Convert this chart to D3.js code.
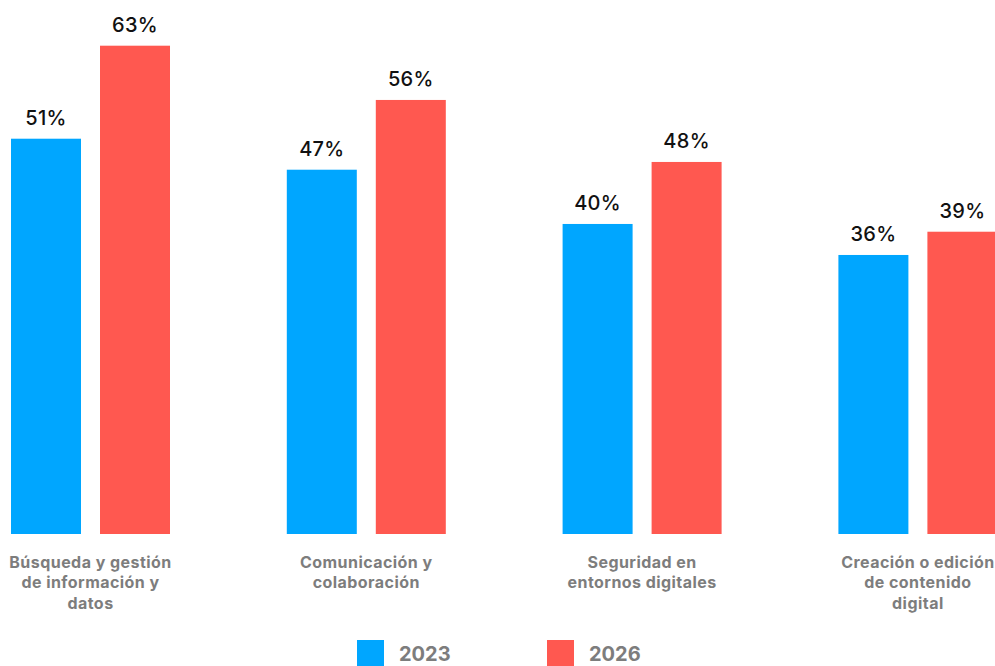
<!DOCTYPE html>
<html>
<head>
<meta charset="utf-8">
<script src="https://cdn.jsdelivr.net/npm/d3@7"></script>
<style>
  html, body { margin: 0; padding: 0; background: #fff; overflow: hidden; }
  svg { display: block; }
</style>
</head>
<body>
<svg id="chart" width="995" height="666"></svg>
<script>
// Digital skill areas, share of population (%) per year
const categories = [
  ["Búsqueda y gestión", "de información y", "datos"],
  ["Comunicación y", "colaboración"],
  ["Seguridad en", "entornos digitales"],
  ["Creación o edición", "de contenido", "digital"]
];
const years = ["2023", "2026"];
const values2023 = [51, 47, 40, 36];
const values2026 = [63, 56, 48, 39];

const colors = { "2023": "#00A6FF", "2026": "#FF5850" };
const font = "Inter, 'Open Sans', sans-serif";

const svg = d3.select("#chart");
const baseY = 534;

const keys = categories.map(c => c.join(" "));
const rows = keys.map((k, i) => ({ key: k, lines: categories[i], "2023": values2023[i], "2026": values2026[i] }));

const x0 = d3.scaleBand().domain(keys).range([11, 997.4]).paddingInner(0.4235).paddingOuter(0);
const x1 = d3.scaleBand().domain(years).range([0, x0.bandwidth()]).paddingInner(0.2135).paddingOuter(0);
const y = d3.scaleLinear().domain([0, 63]).range([baseY, 45.7]);

const groups = svg.append("g").selectAll("g.grp")
  .data(rows).join("g")
  .attr("class", "grp")
  .attr("transform", d => `translate(${x0(d.key)},0)`);

groups.selectAll("rect")
  .data(d => years.map(yr => ({ yr, v: d[yr] })))
  .join("rect")
  .attr("x", d => x1(d.yr))
  .attr("width", x1.bandwidth())
  .attr("y", d => y(d.v))
  .attr("height", d => y(0) - y(d.v))
  .attr("fill", d => colors[d.yr]);

groups.selectAll("text.val")
  .data(d => years.map(yr => ({ yr, v: d[yr] })))
  .join("text")
  .attr("class", "val")
  .attr("x", d => x1(d.yr) + x1.bandwidth() / 2)
  .attr("y", d => y(d.v) - 14)
  .attr("text-anchor", "middle")
  .attr("font-family", font)
  .attr("font-weight", 500)
  .attr("font-size", 20)
  .attr("letter-spacing", 0.3)
  .attr("fill", "#111")
  .text(d => d.v + "%");

// Category labels under each group
groups.append("text")
  .attr("class", "cat")
  .attr("text-anchor", "middle")
  .attr("font-family", font)
  .attr("font-weight", 700)
  .attr("font-size", 16)
  .attr("letter-spacing", 0.45)
  .attr("fill", "#7d7d7d")
  .selectAll("tspan")
  .data(d => d.lines)
  .join("tspan")
  .attr("x", x0.bandwidth() / 2)
  .attr("y", (d, i) => 568 + i * 20.3)
  .text(d => d);

// Legend
const legendX = d3.scaleOrdinal().domain(years).range([357, 547]);
const leg = svg.append("g").selectAll("g")
  .data(years).join("g")
  .attr("transform", d => `translate(${legendX(d)},640)`);
leg.append("rect")
  .attr("width", 27).attr("height", 27)
  .attr("fill", d => colors[d]);
leg.append("text")
  .attr("x", 42).attr("y", 21)
  .attr("font-family", font)
  .attr("font-weight", 700)
  .attr("font-size", 20)
  .attr("fill", "#7d7d7d")
  .text(d => d);
</script>
</body>
</html>
